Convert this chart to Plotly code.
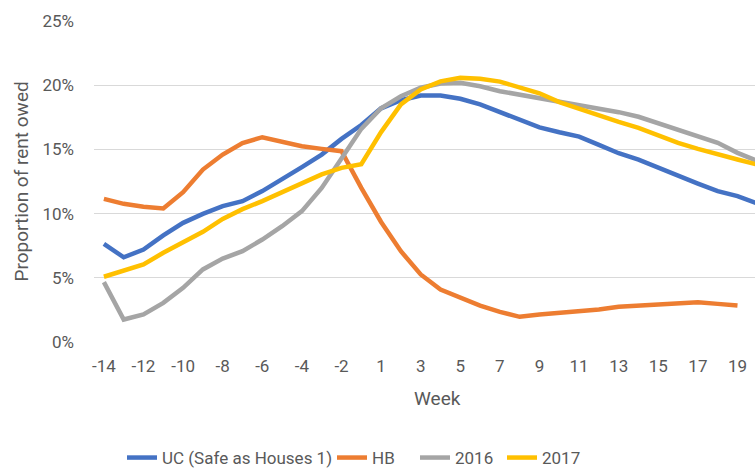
import plotly.graph_objects as go

weeks = [str(w) for w in range(-14, 0)] + [str(w) for w in range(1, 21)]

uc = [7.65, 6.6, 7.2, 8.3, 9.28, 9.98, 10.58, 10.97, 11.75, 12.66, 13.62, 14.6, 15.82, 16.9,
      18.2, 18.83, 19.2, 19.2, 18.94, 18.5, 17.9, 17.25, 16.72, 16.34, 16.0, 15.35, 14.7,
      14.21, 13.56, 12.97, 12.34, 11.75, 11.36, 10.78]
hb = [11.15, 10.76, 10.53, 10.4, 11.67, 13.43, 14.6, 15.5, 15.95, 15.56, 15.25, 15.04, 14.86, 12.0,
      9.35, 7.07, 5.26, 4.09, 3.44, 2.84, 2.35, 1.96, 2.14, 2.27, 2.37, 2.53, 2.74,
      2.84, 2.94, 3.05, 3.1, 2.97, 2.84, None]
y2016 = [4.66, 1.75, 2.14, 3.05, 4.22, 5.65, 6.5, 7.07, 7.98, 9.02, 10.19, 12.0, 14.3, 16.6,
         18.2, 19.14, 19.8, 20.13, 20.19, 19.92, 19.53, 19.27, 18.94, 18.75, 18.5, 18.16, 17.9,
         17.54, 17.02, 16.5, 16.03, 15.51, 14.73, 14.1]
y2017 = [5.08, 5.52, 6.04, 6.95, 7.72, 8.58, 9.59, 10.35, 10.97, 11.67, 12.4, 13.05, 13.56, 13.85,
         16.35, 18.5, 19.67, 20.3, 20.57, 20.5, 20.28, 19.85, 19.37, 18.68, 18.15, 17.64, 17.15,
         16.68, 16.08, 15.51, 15.04, 14.6, 14.21, 13.82]

series_names = ["UC (Safe as Houses 1)", "HB", "2016", "2017"]
series_vals = [uc, hb, y2016, y2017]
series_colors = ["#4472C4", "#ED7D31", "#A5A5A5", "#FFC000"]
legend_text_x = [162, 372, 455, 542]   # pixel where each legend label starts

FONT = "Roboto, Liberation Sans, sans-serif"
GREY = "#595959"

W, H = 755, 468
L, R, T, B = 94, 0, 21, 126
pw = W - L - R
ph = H - T - B
step = 19.8

fig = go.Figure()
legend_ids = ["legend", "legend2", "legend3", "legend4"]
for name, vals, col, lid in zip(series_names, series_vals, series_colors, legend_ids):
    fig.add_trace(go.Scatter(x=weeks, y=vals, name=name, mode="lines", legend=lid,
                             line=dict(color=col, width=4.5), connectgaps=False))

legend_layout = {}
for lid, tx in zip(legend_ids, legend_text_x):
    legend_layout[lid] = dict(orientation="h", x=(tx - 40 - L) / pw, xanchor="left",
                              y=(342 - 458) / ph, yanchor="middle",
                              font=dict(size=17, color=GREY), itemwidth=30,
                              bgcolor="rgba(0,0,0,0)")

fig.update_layout(
    width=W, height=H,
    margin=dict(l=L, r=R, t=T, b=B, pad=0, autoexpand=False),
    paper_bgcolor="white", plot_bgcolor="white",
    font=dict(family=FONT, size=17, color=GREY),
    showlegend=True,
    hovermode=False,
    xaxis=dict(type="category", range=[-0.5, -0.5 + pw / step], dtick=2, tick0=0,
               showgrid=False, zeroline=False, showline=False, automargin=False,
               ticks="", ticklabelstandoff=12, tickfont=dict(size=17, color=GREY)),
    yaxis=dict(range=[0, 25], dtick=5, ticksuffix="%", showgrid=True, gridcolor="#D9D9D9",
               gridwidth=1, zeroline=False, showline=False, ticks="", automargin=False,
               ticklabelstandoff=19, tickfont=dict(size=17, color=GREY)),
    annotations=[
        dict(text="Week", xref="paper", yref="paper", x=(437 - L) / pw, y=(342 - 399) / ph,
             xanchor="center", yanchor="middle", showarrow=False,
             font=dict(size=19, color=GREY)),
        dict(text="Proportion of rent owed", xref="paper", yref="paper", x=(21 - L) / pw,
             y=0.5, xanchor="center", yanchor="middle", textangle=-90, showarrow=False,
             font=dict(size=19, color=GREY)),
    ],
    **legend_layout,
)

fig.write_html("out.html", config={"displayModeBar": False},
               post_script="document.body.style.margin='0px';document.body.style.overflow='hidden';")
